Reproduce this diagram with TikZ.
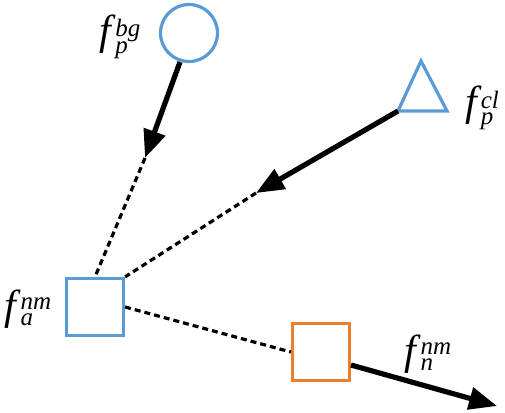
\documentclass[tikz,border=0pt]{standalone}
\usepackage{fontspec}
\setmainfont{Liberation Serif}
\usetikzlibrary{arrows.meta}
\definecolor{nodeblue}{RGB}{91,155,213}
\definecolor{nodeorange}{RGB}{237,125,49}
\tikzset{
  shapeline/.style={line width=3.2pt},
  solidarrow/.style={line width=5.2pt,-{Triangle[length=28pt,width=22pt]}},
  dashline/.style={line width=3.2pt,dash pattern=on 6pt off 4pt},
  lbl/.style={font=\fontsize{42}{42}\selectfont\rmfamily\itshape,inner sep=0pt},
  boxnode/.style={draw,shapeline,minimum size=57pt,inner sep=0pt}
}
\newcommand{\lblf}[2]{f\kern4pt\raisebox{-1pt}{\fontsize{25}{16}\selectfont\rmfamily\itshape\begin{tabular}[c]{@{}l@{}}#1\\#2\end{tabular}}}
\begin{document}
\begin{tikzpicture}[x=1pt,y=-1pt]
\useasboundingbox (0,0) rectangle (505,412);
% nodes
\node[circle,draw=nodeblue,shapeline,minimum size=57pt,inner sep=0pt] (circ) at (189,33) {};
\coordinate (tA) at (421,61);
\coordinate (tL) at (398,111);
\coordinate (tR) at (447,111);
\draw[nodeblue,shapeline,line join=miter] (tA) -- (tL) -- (tR) -- cycle;
\node[boxnode,draw=nodeblue] (sqa) at (95,307) {};
\node[boxnode,draw=nodeorange] (sqn) at (321,352) {};
% labels
\node[lbl] (lbg) at (120,37) {\lblf{bg}{p}};
\node[lbl] (lcl) at (482,108) {\lblf{cl}{p}};
\node[lbl] (lanm) at (28,310) {\lblf{nm}{a}};
\node[lbl] (lnnm) at (428,355) {\lblf{nm}{n}};
% connectors
\coordinate (c1s) at (180,62);
\coordinate (c1t) at (145,158);
\coordinate (c2t) at (256,193);
\coordinate (c3s) at (351,365);
\coordinate (c3t) at (497,406);
\draw[solidarrow] (c1s) -- (c1t);
\draw[dashline] (c1t) -- (sqa.north);
\draw[solidarrow] (tL) -- (c2t);
\draw[dashline] (c2t) -- (sqa.north east);
\draw[dashline] (sqa.east) -- (sqn.west);
\draw[solidarrow] (c3s) -- (c3t);
\end{tikzpicture}
\end{document}
